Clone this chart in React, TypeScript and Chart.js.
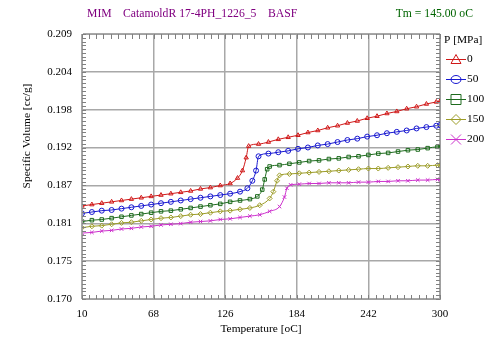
import { useEffect, useRef } from "react";
import { Chart, registerables } from "chart.js";
Chart.register(...registerables);

const xTickValues = [10, 68, 126, 184, 242, 300];
const yTickLabels = ["0.170", "0.175", "0.181", "0.187", "0.192", "0.198", "0.204", "0.209"];
const pressures = ["0", "50", "100", "150", "200"];

const tP0 = [10, 18, 26, 34, 42, 50, 58, 66, 74, 82, 90, 98, 106, 114, 122, 130, 136, 140, 143, 145, 153, 161, 169, 177, 185, 193, 201, 209, 217, 225, 233, 241, 249, 257, 265, 273, 281, 289, 297, 300];
const vP0 = [0.1837, 0.1839, 0.1841, 0.1843, 0.1845, 0.1847, 0.1849, 0.1851, 0.1853, 0.1855, 0.1857, 0.1859, 0.1862, 0.1864, 0.1867, 0.1870, 0.1878, 0.1889, 0.1908, 0.1925, 0.1928, 0.1931, 0.1935, 0.1938, 0.1941, 0.1945, 0.1948, 0.1952, 0.1955, 0.1959, 0.1962, 0.1966, 0.1969, 0.1973, 0.1976, 0.1980, 0.1983, 0.1987, 0.1990, 0.1991];

const tP50 = [10, 18, 26, 34, 42, 50, 58, 66, 74, 82, 90, 98, 106, 114, 122, 130, 138, 144, 148, 151, 153, 161, 169, 177, 185, 193, 201, 209, 217, 225, 233, 241, 249, 257, 265, 273, 281, 289, 297, 300];
const vP50 = [0.1826, 0.1828, 0.1830, 0.1831, 0.1833, 0.1835, 0.1837, 0.1839, 0.1841, 0.1843, 0.1845, 0.1847, 0.1849, 0.1851, 0.1853, 0.1855, 0.1858, 0.1863, 0.1874, 0.1889, 0.1910, 0.1914, 0.1916, 0.1918, 0.1921, 0.1923, 0.1926, 0.1928, 0.1931, 0.1934, 0.1936, 0.1939, 0.1941, 0.1944, 0.1946, 0.1948, 0.1951, 0.1953, 0.1955, 0.1956];

const tP100 = [10, 18, 26, 34, 42, 50, 58, 66, 74, 82, 90, 98, 106, 114, 122, 130, 138, 146, 152, 156, 158, 160, 162, 170, 178, 186, 194, 202, 210, 218, 226, 234, 242, 250, 258, 266, 274, 282, 290, 298, 300];
const vP100 = [0.1814, 0.1816, 0.1817, 0.1819, 0.1821, 0.1823, 0.1825, 0.1827, 0.1829, 0.1830, 0.1832, 0.1834, 0.1836, 0.1838, 0.1840, 0.1843, 0.1845, 0.1847, 0.1851, 0.1861, 0.1876, 0.1891, 0.1895, 0.1897, 0.1899, 0.1901, 0.1903, 0.1904, 0.1906, 0.1907, 0.1909, 0.1910, 0.1912, 0.1914, 0.1915, 0.1917, 0.1919, 0.1920, 0.1922, 0.1924, 0.1924];

const tP150 = [10, 18, 26, 34, 42, 50, 58, 66, 74, 82, 90, 98, 106, 114, 122, 130, 138, 146, 154, 162, 165, 168, 170, 178, 186, 194, 202, 210, 218, 226, 234, 242, 250, 258, 266, 274, 282, 290, 298, 300];
const vP150 = [0.1805, 0.1807, 0.1808, 0.1810, 0.1812, 0.1813, 0.1815, 0.1817, 0.1819, 0.1820, 0.1822, 0.1824, 0.1825, 0.1827, 0.1829, 0.1830, 0.1832, 0.1834, 0.1838, 0.1848, 0.1858, 0.1874, 0.1882, 0.1884, 0.1885, 0.1886, 0.1887, 0.1888, 0.1889, 0.1890, 0.1891, 0.1892, 0.1892, 0.1893, 0.1894, 0.1895, 0.1896, 0.1896, 0.1897, 0.1897];

const tP200 = [10, 18, 26, 34, 42, 50, 58, 66, 74, 82, 90, 98, 106, 114, 122, 130, 138, 146, 154, 162, 170, 174, 176, 179, 186, 194, 202, 210, 218, 226, 234, 242, 250, 258, 266, 274, 282, 290, 298, 300];
const vP200 = [0.1797, 0.1798, 0.1800, 0.1801, 0.1803, 0.1804, 0.1806, 0.1807, 0.1809, 0.1810, 0.1811, 0.1813, 0.1814, 0.1815, 0.1817, 0.1818, 0.1820, 0.1822, 0.1824, 0.1829, 0.1836, 0.1850, 0.1863, 0.1868, 0.1869, 0.1870, 0.1870, 0.1871, 0.1871, 0.1871, 0.1872, 0.1872, 0.1873, 0.1873, 0.1874, 0.1874, 0.1875, 0.1875, 0.1876, 0.1876];

const temps = [tP0, tP50, tP100, tP150, tP200];
const vols = [vP0, vP50, vP100, vP150, vP200];
const colors = ["#d01818", "#1818d0", "#1e6b1e", "#9c9c28", "#cc30cc"];
const markers = ["triangle", "circle", "rect", "rectRot", "crossRot"];

const X_MIN = 10, X_MAX = 300;
const Y_MIN = 0.170, Y_MAX = 0.209;
const FONT = '"Liberation Serif", "Times New Roman", serif';

function drawMarker(ctx: CanvasRenderingContext2D, style: string, x: number, y: number, r: number) {
  ctx.beginPath();
  if (style === "triangle") {
    ctx.moveTo(x, y - r);
    ctx.lineTo(x + r, y + r * 0.8);
    ctx.lineTo(x - r, y + r * 0.8);
    ctx.closePath();
  } else if (style === "circle") {
    ctx.ellipse(x, y, r, r * 0.8, 0, 0, Math.PI * 2);
  } else if (style === "rect") {
    ctx.rect(x - r, y - r, 2 * r, 2 * r);
  } else if (style === "rectRot") {
    ctx.moveTo(x, y - r);
    ctx.lineTo(x + r, y);
    ctx.lineTo(x, y + r);
    ctx.lineTo(x - r, y);
    ctx.closePath();
  } else {
    ctx.moveTo(x - r, y - r);
    ctx.lineTo(x + r, y + r);
    ctx.moveTo(x + r, y - r);
    ctx.lineTo(x - r, y + r);
  }
  ctx.stroke();
}

const decorPlugin = {
  id: "decor",
  afterDraw(chart: any) {
    const ctx: CanvasRenderingContext2D = chart.ctx;
    const ca = chart.chartArea;
    const xs = chart.scales.x;
    const ys = chart.scales.y;
    ctx.save();
    // frame
    ctx.strokeStyle = "#a0a0a0";
    ctx.lineWidth = 1;
    ctx.strokeRect(Math.round(ca.left) + 0.5, Math.round(ca.top) + 0.5, Math.round(ca.right - ca.left), Math.round(ca.bottom - ca.top));
    // minor ticks
    ctx.strokeStyle = "#808080";
    ctx.beginPath();
    const xStep = (X_MAX - X_MIN) / 50;
    for (let i = 0; i <= 50; i++) {
      const px = Math.round(xs.getPixelForValue(X_MIN + i * xStep)) + 0.5;
      ctx.moveTo(px, ca.bottom);
      ctx.lineTo(px, ca.bottom - 4);
      ctx.moveTo(px, ca.top);
      ctx.lineTo(px, ca.top + 5);
    }
    const yStep = (Y_MAX - Y_MIN) / 70;
    for (let i = 0; i <= 70; i++) {
      const py = Math.round(ys.getPixelForValue(Y_MIN + i * yStep)) + 0.5;
      ctx.moveTo(ca.left, py);
      ctx.lineTo(ca.left + 4, py);
      ctx.moveTo(ca.right, py);
      ctx.lineTo(ca.right - 4, py);
    }
    ctx.stroke();

    // header
    ctx.font = `11.7px ${FONT}`;
    ctx.textBaseline = "middle";
    ctx.textAlign = "left";
    ctx.fillStyle = "#800080";
    ctx.fillText("MIM", 87, 14);
    ctx.fillText("CatamoldR 17-4PH_1226_5", 123, 14);
    ctx.fillText("BASF", 268, 14);
    ctx.fillStyle = "#006400";
    ctx.textAlign = "right";
    ctx.fillText("Tm = 145.00 oC", 473, 14);

    // axis titles
    ctx.font = `11.4px ${FONT}`;
    ctx.fillStyle = "#000";
    ctx.textAlign = "center";
    ctx.fillText("Temperature [oC]", (ca.left + ca.right) / 2, 329);
    ctx.save();
    ctx.translate(27, 136);
    ctx.rotate(-Math.PI / 2);
    ctx.fillText("Specific Volume [cc/g]", 0, 0);
    ctx.restore();

    // legend
    ctx.font = `11.4px ${FONT}`;
    ctx.textAlign = "left";
    ctx.fillStyle = "#000";
    ctx.fillText("P [MPa]", 444, 40);
    for (let i = 0; i < pressures.length; i++) {
      const y = 59 + i * 20;
      ctx.strokeStyle = colors[i];
      ctx.lineWidth = 1;
      ctx.beginPath();
      ctx.moveTo(446, y + 0.5);
      ctx.lineTo(466, y + 0.5);
      ctx.stroke();
      drawMarker(ctx, markers[i], 456, y + 0.5, 5);
      ctx.fillStyle = "#000";
      ctx.fillText(pressures[i], 467, y);
    }
    ctx.restore();
  },
};

export default function App() {
  const ref = useRef<HTMLCanvasElement | null>(null);
  useEffect(() => {
    if (!ref.current) return;
    const datasets = temps.map((ts, i) => ({
      label: pressures[i],
      data: ts.map((t, j) => ({ x: t, y: vols[i][j] })),
      showLine: true,
      borderColor: colors[i],
      backgroundColor: "rgba(0,0,0,0)",
      borderWidth: 1,
      pointStyle: markers[i],
      pointRadius: 2.5,
      pointBorderWidth: 1,
      pointBorderColor: colors[i],
      pointBackgroundColor: "rgba(0,0,0,0)",
      cubicInterpolationMode: "monotone" as const,
    }));
    const chart = new Chart(ref.current, {
      type: "scatter",
      data: { datasets },
      options: {
        responsive: false,
        animation: false,
        layout: { padding: { top: 34, right: 45, left: 0, bottom: 0 } },
        plugins: { legend: { display: false }, tooltip: { enabled: false } },
        scales: {
          x: {
            type: "linear",
            min: X_MIN,
            max: X_MAX,
            afterFit: (s: any) => { s.height = 47; },
            afterBuildTicks: (s: any) => { s.ticks = xTickValues.map((v) => ({ value: v })); },
            ticks: {
              color: "#000",
              font: { family: FONT, size: 11 },
              padding: 9,
              maxRotation: 0,
              callback: (v: any) => String(v),
            },
            grid: { color: "#a8a8a8", lineWidth: 1.5, drawTicks: false },
            border: { display: true, color: "#a0a0a0" },
          },
          y: {
            type: "linear",
            min: Y_MIN,
            max: Y_MAX,
            afterFit: (s: any) => { s.width = 82; },
            afterBuildTicks: (s: any) => {
              s.ticks = yTickLabels.map((_, i) => ({ value: Y_MIN + (i * (Y_MAX - Y_MIN)) / 7 }));
            },
            ticks: {
              color: "#000",
              font: { family: FONT, size: 11 },
              padding: 10,
              callback: (_v: any, i: number) => yTickLabels[i],
            },
            grid: { color: "#a8a8a8", lineWidth: 1.5, drawTicks: false },
            border: { display: true, color: "#a0a0a0" },
          },
        },
      },
      plugins: [decorPlugin],
    });
    return () => chart.destroy();
  }, []);
  return (
    <div style={{ position: "absolute", left: 0, top: 0, width: 485, height: 346, background: "#fff" }}>
      <canvas ref={ref} width={485} height={346} style={{ display: "block" }} />
    </div>
  );
}
